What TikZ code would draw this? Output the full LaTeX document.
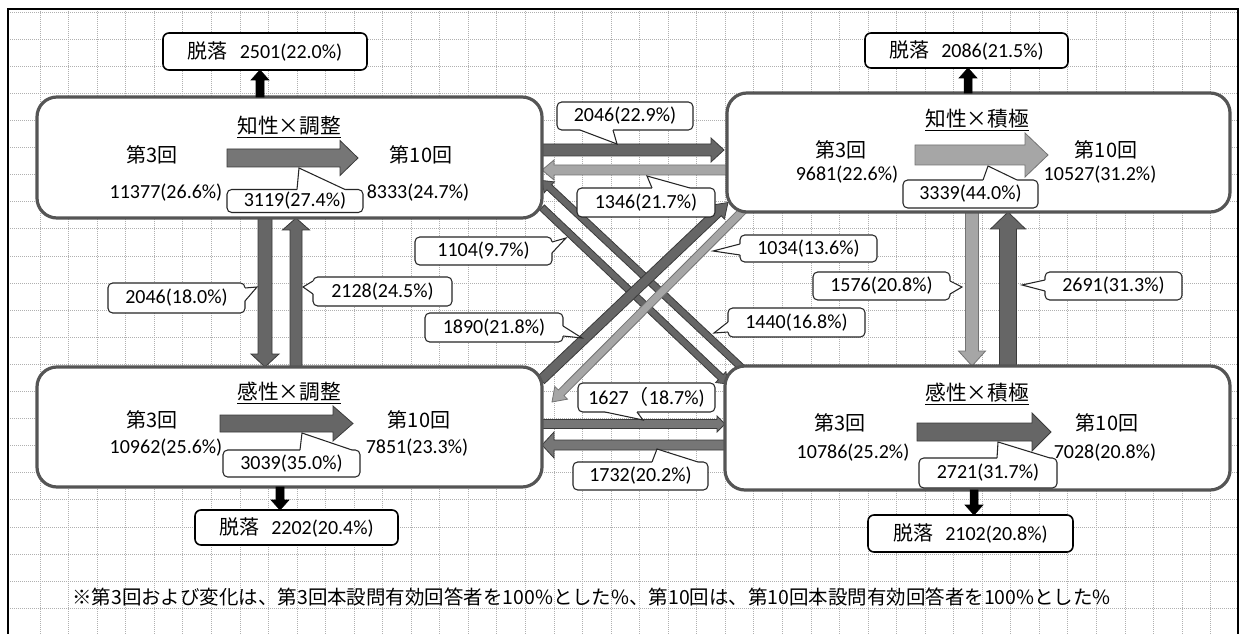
\documentclass[tikz,border=0pt]{standalone}
\usepackage{fontspec}
\setmainfont{Carlito}
\newfontfamily\jp{Noto Sans CJK JP}
\usetikzlibrary{calc,fit}
\definecolor{boxline}{HTML}{555555}
\definecolor{arrdark}{HTML}{666666}
\definecolor{arrmid}{HTML}{767676}
\definecolor{arrlight}{HTML}{A6A6A6}
\definecolor{arredge}{HTML}{3A3A3A}
\definecolor{gridc}{HTML}{B0B0B0}
\newcommand\fszA{\fontsize{15}{18}\selectfont}
\newcommand\tszA{\fontsize{15.5}{18}\selectfont}
% block arrow: #1 from, #2 tip, #3 half shaft, #4 half head, #5 head length (px), #6 style
\newcommand\bkarrow[6]{%
  \pgfmathsetlengthmacro\bkS{#3*0.75pt}%
  \pgfmathsetlengthmacro\bkW{#4*0.75pt}%
  \pgfmathsetlengthmacro\bkH{#5*0.75pt}%
  \coordinate (bkh) at ($(#2)!\bkH!(#1)$);%
  \filldraw[#6] ($(#1)!\bkS!90:(#2)$) -- ($(bkh)!\bkS!90:(#2)$) -- ($(bkh)!\bkW!90:(#2)$) -- (#2) -- ($(bkh)!\bkW!-90:(#2)$) -- ($(bkh)!\bkS!-90:(#2)$) -- ($(#1)!\bkS!-90:(#2)$) -- cycle;%
}
% callout pointer: #1 base1, #2 base2, #3 tip, #4 inward shift
\newcommand\ptr[4]{%
  \fill[white] ($#1+#4$) -- #1 -- #3 -- #2 -- ($#2+#4$) -- cycle;%
  \draw[ptrline] #1 -- #3 -- #2;%
}
\begin{document}
\begin{tikzpicture}[x=0.75pt,y=-0.75pt,
  bigbox/.style={draw=boxline, line width=2.4pt, fill=white, rounded corners=15pt, inner sep=0pt, outer sep=0pt},
  wh/.style 2 args={minimum width=#1*0.75pt, minimum height=#2*0.75pt},
  callbox/.style={draw=black!85, line width=0.8pt, fill=white, rounded corners=3.5pt, inner sep=0pt, outer sep=0pt, font=\fszA},
  dropbox/.style={draw=black, line width=1.2pt, fill=white, rounded corners=4.5pt, inner sep=0pt, outer sep=0pt, font=\fszA},
  lbl/.style={inner sep=0pt, font=\fszA},
  ttl/.style={inner sep=0pt, font=\tszA},
  ptrline/.style={draw=black!85, line width=0.8pt, line join=miter},
  gridline/.style={draw=gridc, line width=0.5pt, dash pattern=on 0.75pt off 0.75pt},
  blkdark/.style={fill=arrdark, draw=arredge, line width=0.6pt, line join=miter},
  blkmid/.style={fill=arrmid, draw=arredge, line width=0.6pt, line join=miter},
  blklight/.style={fill=arrlight, draw=black!55, line width=0.6pt, line join=miter},
  blkblack/.style={fill=black, draw=black, line width=0.4pt, line join=miter}
]
\useasboundingbox (0,0) rectangle (1244,634);
\fill[white] (0,0) rectangle (1244,634);
% grid
\begin{scope}
\clip (8,9) rectangle (1238,640);
\foreach \k in {0,...,42} \draw[gridline] ({40+28.55*\k},9) -- ({40+28.55*\k},640);
\foreach \k in {0,...,23} \draw[gridline] (8,{12+27.1*\k}) -- (1238,{12+27.1*\k});
\end{scope}
\draw[line width=1.4pt] (8,640) -- (8,9) -- (1238,9) -- (1238,640);

% the four group boxes (outline drawn later, over the connectors)
\path (37,97) coordinate (tlA) (542,218) coordinate (tlB)
      (727,93) coordinate (trA) (1230,212) coordinate (trB)
      (37,367) coordinate (blA) (542,487) coordinate (blB)
      (725,366) coordinate (brA) (1230,490) coordinate (brB);
\node[bigbox, draw=none, fill=none, fit=(tlA)(tlB)] (tl) {};
\node[bigbox, draw=none, fill=none, fit=(trA)(trB)] (tr) {};
\node[bigbox, draw=none, fill=none, fit=(blA)(blB)] (bl) {};
\node[bigbox, draw=none, fill=none, fit=(brA)(brB)] (br) {};

% connectors between the groups
\coordinate (h1a) at ($(tl.east)+(0,-7.5)$);
\coordinate (h1b) at ($(tr.west)+(-3,-2.5)$);
\coordinate (h2a) at ($(tr.west)+(0,17.5)$);
\coordinate (h2b) at ($(tl.east)+(0,12.5)$);
\coordinate (v1a) at ($(tl.south west)+(228,0)$);
\coordinate (v1b) at ($(bl.north west)+(228,0)$);
\coordinate (v2a) at ($(bl.north west)+(259,0)$);
\coordinate (v2b) at ($(tl.south west)+(259,0)$);
\coordinate (v3a) at ($(tr.south west)+(245,0)$);
\coordinate (v3b) at ($(br.north west)+(247,0)$);
\coordinate (v4a) at ($(br.north west)+(283,0)$);
\coordinate (v4b) at ($(tr.south west)+(281,0)$);
\coordinate (h3a) at ($(bl.east)+(0,-3)$);
\coordinate (h3b) at ($(br.west)+(0,-4)$);
\coordinate (h4a) at ($(br.west)+(0,17)$);
\coordinate (h4b) at ($(bl.east)+(0,18)$);
\coordinate (g1a) at ($(tl.east)+(0,50)$);
\coordinate (g1b) at ($(br.north west)+(3,18)$);
\coordinate (g2a) at ($(br.north west)+(17,2)$);
\coordinate (g2b) at ($(tl.east)+(0,23)$);
\coordinate (g3a) at ($(bl.east)+(-1,-47)$);
\coordinate (g3b) at ($(tr.west)+(1,50)$);
\coordinate (g4a) at ($(tr.west)+(18,56)$);
\coordinate (g4b) at ($(bl.east)+(10,-25)$);

\bkarrow{g1a}{g1b}{3.5}{7.5}{10}{blkdark}
\bkarrow{g2a}{g2b}{3.5}{7.5}{10}{blkdark}
\bkarrow{g4a}{g4b}{4}{9}{13}{blklight}
\bkarrow{g3a}{g3b}{5}{9.5}{14}{blkdark}
\bkarrow{h1a}{h1b}{6}{12}{13}{blkdark}
\bkarrow{h2a}{h2b}{5}{10}{12}{blklight}
\bkarrow{v1a}{v1b}{7}{14}{13}{blkdark}
\bkarrow{v2a}{v2b}{6}{13.5}{12}{blkdark}
\bkarrow{v3a}{v3b}{6.5}{13.5}{15}{blklight}
\bkarrow{v4a}{v4b}{8.5}{17.5}{17}{blkdark}
\bkarrow{h3a}{h3b}{4.5}{8}{8}{blkmid}
\bkarrow{h4a}{h4b}{5}{13}{12}{blkmid}

\node[bigbox, fit=(tlA)(tlB)] (tlbox) {};
\node[bigbox, fit=(trA)(trB)] (trbox) {};
\node[bigbox, fit=(blA)(blB)] (blbox) {};
\node[bigbox, fit=(brA)(brB)] (brbox) {};

% top-left group
\node[ttl] (tlt) at (289,127) {\underline{\jp 知性×調整}};
\node[lbl] (tl3) at (152,155) {\jp 第3回};
\node[lbl] (tl3n) at (166,193) {11377(26.6\%)};
\node[lbl] (tl10) at (421,155) {\jp 第10回};
\node[lbl] (tl10n) at (418,193) {8333(24.7\%)};
\coordinate (tli1) at (227,158); \coordinate (tli2) at (358,158);
\bkarrow{tli1}{tli2}{9}{17.5}{18}{blkmid}
\node[callbox, wh={136}{23}] (c3119) at (295,201) {3119(27.4\%)};
\ptr{(297,189.5)}{(345,189.5)}{(299,168)}{(0,3)}

% top-right group
\node[ttl] (trt) at (977,120) {\underline{\jp 知性×積極}};
\node[lbl] (tr3) at (841,150) {\jp 第3回};
\node[lbl] (tr3n) at (847,175) {9681(22.6\%)};
\node[lbl] (tr10) at (1106,150) {\jp 第10回};
\node[lbl] (tr10n) at (1100,175) {10527(31.2\%)};
\coordinate (tri1) at (915,155); \coordinate (tri2) at (1048,155);
\bkarrow{tri1}{tri2}{10}{22}{23}{blklight}
\node[callbox, wh={135}{28}] (c3339) at (970.5,194) {3339(44.0\%)};
\ptr{(983,180)}{(1017,180)}{(988,166)}{(0,3)}

% bottom-left group
\node[ttl] (blt) at (289,393) {\underline{\jp 感性×調整}};
\node[lbl] (bl3) at (152,420) {\jp 第3回};
\node[lbl] (bl3n) at (166,448) {10962(25.6\%)};
\node[lbl] (bl10) at (419,420) {\jp 第10回};
\node[lbl] (bl10n) at (417,448) {7851(23.3\%)};
\coordinate (bli1) at (220,423.5); \coordinate (bli2) at (353,423.5);
\bkarrow{bli1}{bli2}{8.5}{17.5}{20}{blkdark}
\node[callbox, wh={137}{27}] (c3039) at (291.5,463.5) {3039(35.0\%)};
\ptr{(300,450)}{(352,450)}{(302,433)}{(0,3)}

% bottom-right group
\node[ttl] (brt) at (977,394) {\underline{\jp 感性×積極}};
\node[lbl] (br3) at (840,423) {\jp 第3回};
\node[lbl] (br3n) at (853,453) {10786(25.2\%)};
\node[lbl] (br10) at (1107,423) {\jp 第10回};
\node[lbl] (br10n) at (1105,453) {7028(20.8\%)};
\coordinate (bri1) at (917,432); \coordinate (bri2) at (1051,432);
\bkarrow{bri1}{bri2}{9}{19}{19}{blkdark}
\node[callbox, wh={138}{30}] (c2721) at (988,473) {2721(31.7\%)};
\ptr{(997,458)}{(1050,458)}{(998,442)}{(0,3)}

% connector labels
\node[callbox, wh={136}{28}] (c2046a) at (625,116) {2046(22.9\%)};
\ptr{(580,130)}{(613,130)}{(617,144)}{(0,-3)}
\node[callbox, wh={138}{29}] (c1346) at (646,202.5) {1346(21.7\%)};
\ptr{(652,188)}{(690,188)}{(647,176)}{(0,3)}
\node[callbox, wh={137}{30}] (c2046b) at (176.5,298) {2046(18.0\%)};
\ptr{(245,288)}{(245,301)}{(257,287)}{(-3,0)}
\node[callbox, wh={139}{29}] (c2128) at (382.5,291.5) {2128(24.5\%)};
\ptr{(313,281)}{(313,294)}{(303,287)}{(3,0)}
\node[callbox, wh={137}{28}] (c1576) at (881.5,286) {1576(20.8\%)};
\ptr{(950,281)}{(950,294)}{(962,287)}{(-3,0)}
\node[callbox, wh={137}{28}] (c2691) at (1113.5,286) {2691(31.3\%)};
\ptr{(1045,280)}{(1045,291)}{(1022,285)}{(3,0)}
\node[callbox, wh={137}{29}] (c1627) at (646.5,397.5) {1627{\jp （}18.7\%)};
\ptr{(605,412)}{(637,412)}{(643,420)}{(0,-3)}
\node[callbox, wh={135}{28}] (c1732) at (640.5,476) {1732(20.2\%)};
\ptr{(652,462)}{(698,462)}{(657,449)}{(0,3)}
\node[callbox, wh={137}{28}] (c1104) at (483.5,251) {1104(9.7\%)};
\ptr{(552,242)}{(552,253)}{(566,238)}{(-3,0)}
\node[callbox, wh={138}{29}] (c1890) at (494,327.5) {1890(21.8\%)};
\ptr{(563,326)}{(563,336)}{(582,338)}{(-3,0)}
\node[callbox, wh={137}{27}] (c1034) at (808.5,248.5) {1034(13.6\%)};
\ptr{(740,244)}{(740,255)}{(713,251)}{(3,0)}
\node[callbox, wh={137}{29}] (c1440) at (796.5,322.5) {1440(16.8\%)};
\ptr{(728,322)}{(728,332)}{(714,333)}{(3,0)}

% drop-out boxes and their arrows
\node[dropbox, wh={204}{37}] (d1) at (265,51.5) {{\jp 脱落}\hspace{0.6em}2501(22.0\%)\hspace{0.9em}};
\node[dropbox, wh={203}{35}] (d2) at (966.5,50.5) {{\jp 脱落}\hspace{0.6em}2086(21.5\%)\hspace{0.9em}};
\node[dropbox, wh={203}{35}] (d3) at (296.5,527.5) {{\jp 脱落}\hspace{0.6em}2202(20.4\%)\hspace{0.9em}};
\node[dropbox, wh={205}{37}] (d4) at (970.5,533.5) {{\jp 脱落}\hspace{0.6em}2102(20.8\%)\hspace{0.9em}};
\coordinate (a1s) at ($(tl.north west)+(223,0)$);
\coordinate (a1e) at ($(d1.south west)+(97,0)$);
\coordinate (a2s) at ($(tr.north west)+(241,0)$);
\coordinate (a2e) at ($(d2.south west)+(103,0)$);
\coordinate (a3s) at ($(bl.south west)+(243,0)$);
\coordinate (a3e) at ($(d3.north west)+(85,0)$);
\coordinate (a4s) at ($(br.south west)+(249,0)$);
\coordinate (a4e) at ($(d4.north west)+(106,0)$);
\bkarrow{a1s}{a1e}{4}{9}{10}{blkblack}
\bkarrow{a2s}{a2e}{4}{9}{10}{blkblack}
\bkarrow{a3s}{a3e}{4}{9}{10}{blkblack}
\bkarrow{a4s}{a4e}{4}{9}{10}{blkblack}

% footnote
\node[lbl, anchor=west, font=\fontsize{14.6}{18}\selectfont] (fn) at (72,597) {\jp ※第3回および変化は、第3回本設問有効回答者を100\%とした\%、第10回は、第10回本設問有効回答者を100\%とした\%};
\end{tikzpicture}
\end{document}
